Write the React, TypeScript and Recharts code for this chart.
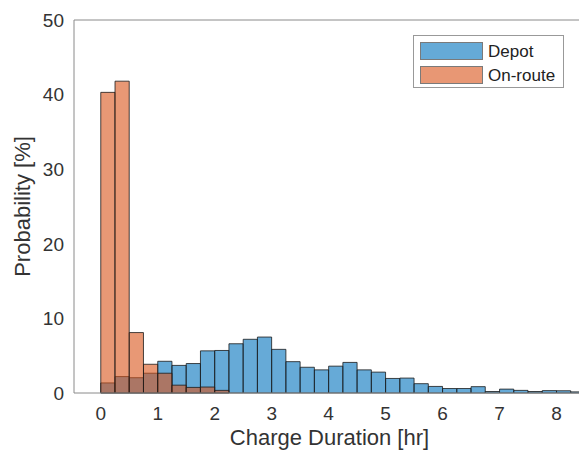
import { ComposedChart, Bar, XAxis, YAxis, ReferenceLine } from "recharts";

// left edge of each 0.25 hr bin
const BIN_LEFT = [
  0, 0.25, 0.5, 0.75, 1, 1.25, 1.5, 1.75, 2, 2.25, 2.5, 2.75, 3, 3.25, 3.5, 3.75,
  4, 4.25, 4.5, 4.75, 5, 5.25, 5.5, 5.75, 6, 6.25, 6.5, 6.75, 7, 7.25, 7.5, 7.75,
  8, 8.25,
];
const BIN_WIDTH = 0.25;

const DEPOT = [
  1.35, 2.2, 2.05, 2.65, 4.25, 3.7, 3.95, 5.65, 5.7, 6.6, 7.2, 7.5, 5.85, 4.2,
  3.45, 3.1, 3.6, 4.1, 3.1, 2.8, 1.95, 2.0, 1.25, 0.88, 0.6, 0.6, 0.85, 0.2,
  0.52, 0.35, 0.2, 0.32, 0.3, 0.15,
];

const ON_ROUTE = [
  40.3, 41.8, 8.1, 3.85, 2.65, 1.05, 0.75, 0.8, 0.35, 0, 0, 0, 0, 0, 0, 0, 0, 0,
  0, 0, 0, 0, 0, 0, 0, 0, 0, 0, 0, 0, 0, 0, 0, 0,
];

const X_TICKS = [0, 1, 2, 3, 4, 5, 6, 7, 8];
const Y_TICKS = [0, 10, 20, 30, 40, 50];

const BLUE = "#0072BD";
const ORANGE = "#D95319";
const AXIS = "#8a8a8a";
const TEXT = "#333333";
const FONT = "'Liberation Sans', Arial, sans-serif";

const data = BIN_LEFT.map((x, i) => ({
  x: x + BIN_WIDTH / 2,
  depot: DEPOT[i],
  onRoute: ON_ROUTE[i],
}));

function LegendBox() {
  const item = (color: string, label: string) => (
    <div style={{ display: "flex", alignItems: "center", height: 24 }}>
      <span
        style={{
          display: "inline-block",
          width: 61,
          height: 16,
          background: color,
          opacity: 0.6,
          border: "1px solid #222",
          marginRight: 5,
        }}
      />
      <span>{label}</span>
    </div>
  );
  return (
    <div
      style={{
        position: "absolute",
        left: 413,
        top: 35,
        width: 151,
        height: 53,
        border: "1px solid #999",
        background: "#fff",
        fontFamily: FONT,
        fontSize: 17,
        color: "#222",
        padding: "3px 0 0 6px",
        boxSizing: "border-box",
        lineHeight: 1,
      }}
    >
      {item(BLUE, "Depot")}
      {item(ORANGE, "On-route")}
    </div>
  );
}

export default function App() {
  return (
    <div
      style={{
        position: "fixed",
        left: 0,
        top: 0,
        width: 579,
        height: 457,
        overflow: "hidden",
        background: "#fff",
      }}
    >
      <ComposedChart
        width={620}
        height={457}
        data={data}
        margin={{ top: 20, right: 35, left: 14, bottom: 12 }}
        barGap={-14.2}
        style={{ fontFamily: FONT }}
      >
        <XAxis
          dataKey="x"
          type="number"
          domain={[-0.47, 8.5]}
          allowDataOverflow
          ticks={X_TICKS}
          interval={0}
          height={52}
          stroke={AXIS}
          tickLine={false}
          tickSize={0}
          tickMargin={14}
          tick={{ fontSize: 19, fill: TEXT }}
          label={{
            value: "Charge Duration [hr]",
            position: "insideBottom",
            offset: 0,
            style: { fontSize: 22, fill: TEXT },
          }}
        />
        <YAxis
          type="number"
          domain={[0, 50]}
          ticks={Y_TICKS}
          interval={0}
          width={60}
          stroke={AXIS}
          tickLine={false}
          tickSize={0}
          tickMargin={10}
          tick={{ fontSize: 19, fill: TEXT }}
          label={{
            value: "Probability [%]",
            angle: -90,
            position: "insideLeft",
            offset: 8,
            style: { fontSize: 22, fill: TEXT, textAnchor: "middle" },
          }}
        />
        <ReferenceLine y={50} stroke={AXIS} ifOverflow="extendDomain" />
        <Bar
          dataKey="depot"
          name="Depot"
          fill={BLUE}
          fillOpacity={0.6}
          stroke="#1a1a1a"
          strokeOpacity={0.8}
          barSize={14.2}
          isAnimationActive={false}
        />
        <Bar
          dataKey="onRoute"
          name="On-route"
          fill={ORANGE}
          fillOpacity={0.6}
          stroke="#1a1a1a"
          strokeOpacity={0.8}
          barSize={14.2}
          isAnimationActive={false}
        />
      </ComposedChart>
      <LegendBox />
    </div>
  );
}
